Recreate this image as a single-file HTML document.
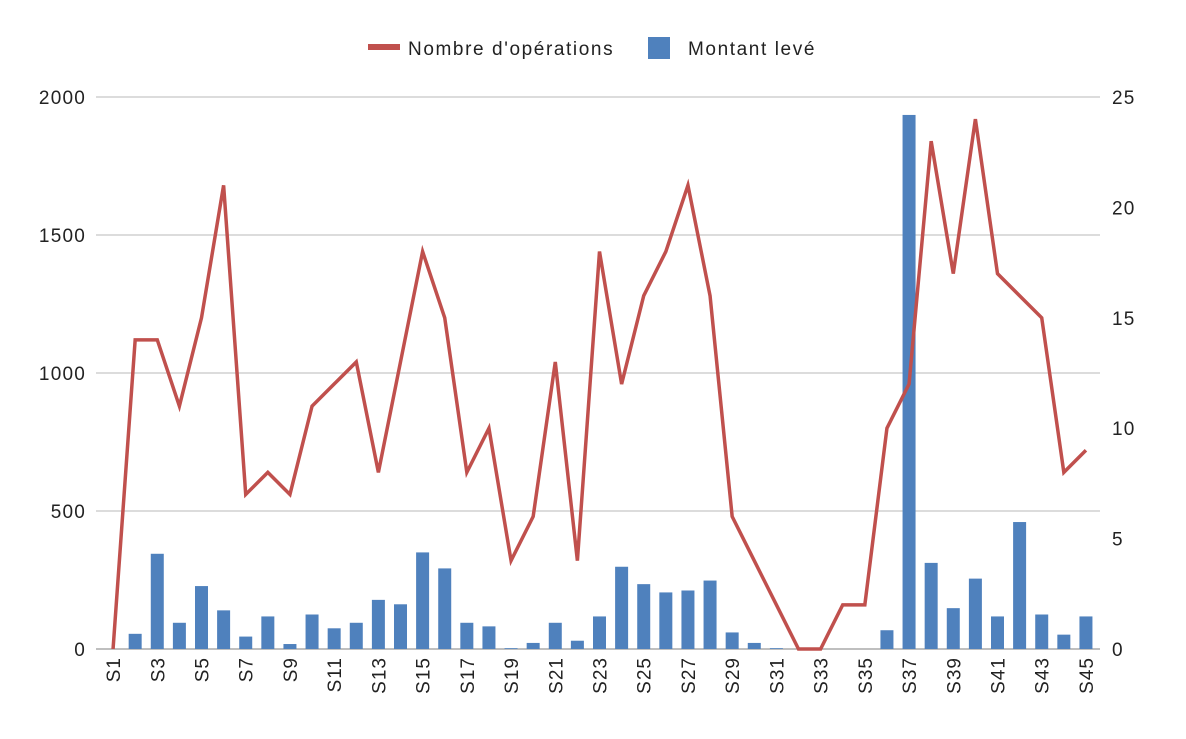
<!DOCTYPE html>
<html><head><meta charset="utf-8"><style>
body{margin:0;background:#fff;}
svg text{font-family:"Liberation Sans",sans-serif;fill:#222;}
</style></head><body>
<svg id="chart" width="1186" height="734" xmlns="http://www.w3.org/2000/svg">
<g id="grid"></g>
<g id="bars"></g>
<g id="line"></g>
<g id="axes"></g>
<g>
<rect x="368" y="44" width="32" height="6" fill="#c0504d"/>
<text x="408" y="55" font-size="19" letter-spacing="1.6">Nombre d'opérations</text>
<rect x="648" y="37" width="22" height="22" fill="#4f81bd"/>
<text x="688" y="55" font-size="19" letter-spacing="1.6">Montant levé</text>
</g>
</svg>
<script>
const categories=[];for(let i=1;i<=45;i++)categories.push('S'+i);
const montant=[0,55,345,95,228,140,45,118,18,125,75,95,178,162,350,292,95,82,3,22,95,30,118,298,235,205,212,248,60,22,3,0,0,0,0,68,1935,312,148,255,118,460,125,52,118];
const operations=[0,14,14,11,15,21,7,8,7,11,12,13,8,13,18,15,8,10,4,6,13,4,18,12,16,18,21,16,6,4,2,0,0,2,2,10,12,23,17,24,17,16,15,8,9];
const leftTicks=[0,500,1000,1500,2000];
const rightTicks=[0,5,10,15,20,25];
const X0=102,X1=1097,Y0=649,Y1=97;
const band=(X1-X0)/categories.length;
const xc=i=>X0+band*(i+0.5);
const yL=v=>Y0-(v/2000)*(Y0-Y1);
const yR=v=>Y0-(v/25)*(Y0-Y1);
const NS='http://www.w3.org/2000/svg';
function mk(t,a,p){const e=document.createElementNS(NS,t);for(const k in a)e.setAttribute(k,a[k]);p.appendChild(e);return e;}
const grid=document.getElementById('grid'),axes=document.getElementById('axes');
leftTicks.forEach(v=>{
 const l=mk('line',{x1:96,x2:1100,y1:yL(v),y2:yL(v),stroke:v===0?'#999':'#c8c8c8','stroke-width':1.3},grid);
 
 
 const t=mk('text',{x:86,y:yL(v)+7,'text-anchor':'end','font-size':19,'letter-spacing':1.2},axes);t.textContent=v;
 
 
});
rightTicks.forEach(v=>{
 const t=mk('text',{x:1112,y:yR(v)+7,'font-size':19,'letter-spacing':1.2},axes);t.textContent=v;
 
 
});
categories.forEach((c,i)=>{
 if(i%2===0){
  const t=mk('text',{x:0,y:0,'font-size':19,'letter-spacing':1,'text-anchor':'end',transform:`translate(${xc(i)+7},${Y0+8}) rotate(-90)`},axes);t.textContent=c;
  
  
 }
});
const bars=document.getElementById('bars');
montant.forEach((v,i)=>{
 const r=mk('rect',{x:xc(i)-6.5,y:yL(v),width:13,height:Y0-yL(v),fill:'#4f81bd'},bars);
 
 
});
const pts=operations.map((v,i)=>xc(i)+','+yR(v)).join(' ');
const pl=mk('polyline',{points:pts,fill:'none',stroke:'#c0504d','stroke-width':3.5,'stroke-linejoin':'miter'},document.getElementById('line'));


</script>
</body></html>
